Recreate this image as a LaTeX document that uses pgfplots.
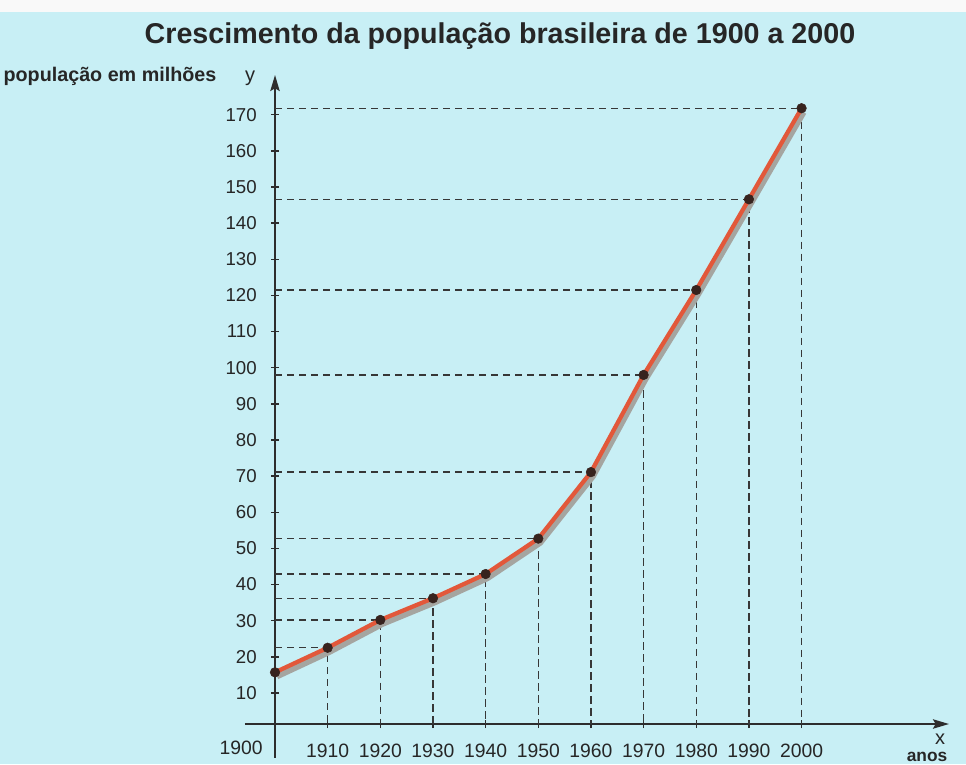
\documentclass[border=0pt]{standalone}
\usepackage{fontspec}
\setmainfont{Liberation Sans}
\usepackage{pgfplots}
\usepackage{pgfplotstable}
\pgfplotsset{compat=1.18}
\usetikzlibrary{arrows.meta}
\definecolor{bg}{RGB}{200,239,245}
\definecolor{axiscol}{RGB}{45,45,45}
\definecolor{dashcol}{RGB}{55,55,55}
\definecolor{linered}{RGB}{226,88,58}
\definecolor{shadowcol}{RGB}{165,165,160}
\definecolor{dotcol}{RGB}{55,35,30}

\pgfplotstableread{
year pop
1900 15.7
1910 22.5
1920 30.2
1930 36.2
1940 42.9
1950 52.7
1960 71.1
1970 98.0
1980 121.5
1990 146.6
2000 171.8
}\popdata

\begin{document}
\begin{tikzpicture}
\path[use as bounding box] (0,0) rectangle (724.5pt,573pt);
\fill[bg] (0,0) rectangle (724.5pt,573pt);
\fill[white!95!gray] (0,564pt) rectangle (724.5pt,573pt);
\begin{axis}[
  at={(206.25pt,30pt)}, anchor=south west, scale only axis,
  width=505.5pt, height=486.75pt,
  xmin=1900, xmax=2028, ymin=1.4, ymax=181,
  axis lines*=left, clip=false,
  axis line style={draw=axiscol, line width=1.5pt, -{Stealth[length=12pt,width=7pt,inset=2pt]}},
  xtick={1910,1920,...,2000}, ytick={10,20,...,170},
  tick align=center, major tick length=6pt,
  tick style={draw=axiscol, line width=1.1pt},
  /pgf/number format/assume math mode=true,
  /pgf/number format/1000 sep={},
  ticklabel style={text=black!85, inner sep=0pt},
  xticklabel style={font=\fontsize{14.5}{17}\selectfont, anchor=base, yshift=-22pt},
  yticklabel style={font=\fontsize{14}{16}\selectfont, anchor=east, xshift=-10.5pt},
  guide/.style={dashcol, line width=1pt, dash pattern=on 5.5pt off 3.5pt, forget plot},
]
% extensions of the axes beyond the origin
\draw[axiscol, line width=1.5pt] (axis cs:1900,-8) -- (axis cs:1900,1.4);
\draw[axiscol, line width=1.5pt] (axis cs:1894.3,1.4) -- (axis cs:1900,1.4);
% dashed guides
\addplot[guide] coordinates {(1900,22.5) (1910,22.5) (1910,1.4)};
\addplot[guide] coordinates {(1900,30.2) (1920,30.2) (1920,1.4)};
\addplot[guide] coordinates {(1900,36.2) (1930,36.2) (1930,1.4)};
\addplot[guide] coordinates {(1900,42.9) (1940,42.9) (1940,1.4)};
\addplot[guide] coordinates {(1900,52.7) (1950,52.7) (1950,1.4)};
\addplot[guide] coordinates {(1900,71.1) (1960,71.1) (1960,1.4)};
\addplot[guide] coordinates {(1900,98.0) (1970,98.0) (1970,1.4)};
\addplot[guide] coordinates {(1900,121.5) (1980,121.5) (1980,1.4)};
\addplot[guide] coordinates {(1900,146.6) (1990,146.6) (1990,1.4)};
\addplot[guide] coordinates {(1900,171.8) (2000,171.8) (2000,1.4)};
% shadow and line
\addplot[shadowcol, line width=4.5pt, line join=round, xshift=1.5pt, yshift=-3pt, forget plot] table[x=year,y=pop] {\popdata};
\addplot[linered, line width=3.2pt, line join=round, forget plot] table[x=year,y=pop] {\popdata};
\addplot[only marks, mark=*, mark size=3.6pt, mark options={fill=dotcol, draw=dotcol}, forget plot] table[x=year,y=pop] {\popdata};
\end{axis}
\node[anchor=base, text=black!85, font=\bfseries\fontsize{21.5}{26}\selectfont] at (375pt,540pt) {Crescimento da população brasileira de 1900 a 2000};
\node[anchor=base west, inner sep=0pt, text=black!85, font=\bfseries\fontsize{14.8}{17}\selectfont] at (2.5pt,511.5pt) {população em milhões};
\node[anchor=base, inner sep=0pt, text=black!85, font=\fontsize{15}{17}\selectfont] at (187.5pt,511.5pt) {y};
\node[anchor=base, inner sep=0pt, text=black!85, font=\fontsize{15}{17}\selectfont] at (705pt,15pt) {x};
\node[anchor=base, inner sep=0pt, text=black!85, font=\bfseries\fontsize{13}{15}\selectfont] at (695.25pt,1.8pt) {anos};
\node[anchor=base east, inner sep=0pt, text=black!85, font=\fontsize{14.5}{17}\selectfont] at (197.25pt,7.5pt) {1900};
\end{tikzpicture}
\end{document}
